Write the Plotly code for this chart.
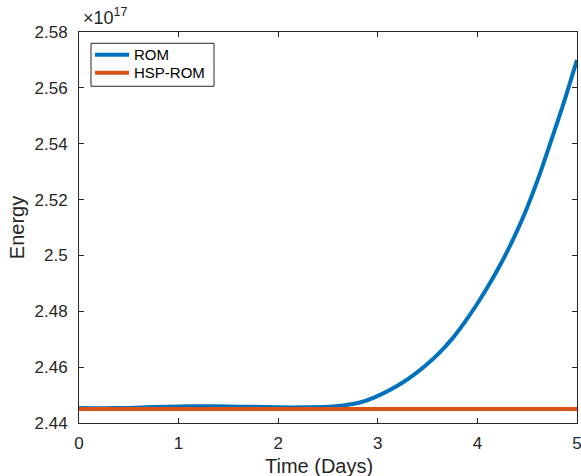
import plotly.graph_objects as go

# Time in days
time_days = [0, 0.25, 0.5, 0.75, 1.0, 1.25, 1.5, 1.75, 2.0, 2.25, 2.5, 2.625,
             2.75, 2.875, 3.0, 3.125, 3.25, 3.375, 3.5, 3.625, 3.75, 3.875,
             4.0, 4.125, 4.25, 4.375, 4.5, 4.625, 4.75, 4.875, 5.0]
# Energy, in units of 1e17
rom_energy = [2.4454, 2.4453, 2.4454, 2.4457, 2.4459, 2.4460, 2.4459, 2.4458,
              2.4456, 2.4456, 2.4458, 2.4462, 2.4468, 2.4479, 2.4497, 2.4519,
              2.4545, 2.4576, 2.4612, 2.4654, 2.4703, 2.4762, 2.4828, 2.4900,
              2.4980, 2.5070, 2.5172, 2.5290, 2.5421, 2.5555, 2.5700]
hsp_rom_energy = [2.4450] * len(time_days)

series_names = ["ROM", "HSP-ROM"]
series_colors = ["#0072BD", "#D95319"]

x_ticks = [0, 1, 2, 3, 4, 5]
y_ticks = [2.44, 2.46, 2.48, 2.50, 2.52, 2.54, 2.56, 2.58]
y_tick_labels = ["2.44", "2.46", "2.48", "2.5", "2.52", "2.54", "2.56", "2.58"]

FONT = "Liberation Sans, Arial, sans-serif"
AX = "#262626"

fig = go.Figure()
for name, color, vals in zip(series_names, series_colors, [rom_energy, hsp_rom_energy]):
    fig.add_trace(go.Scatter(x=time_days, y=vals, mode="lines", name=name,
                             showlegend=False,
                             line=dict(color=color, width=4, shape="spline", smoothing=0.6)))

axis_common = dict(showline=True, linecolor=AX, linewidth=1, mirror="ticks",
                   ticks="inside", ticklen=5, tickcolor=AX, tickwidth=1,
                   showgrid=False, zeroline=False, automargin=False,
                   ticklabeloverflow="allow",
                   tickfont=dict(family=FONT, size=17, color=AX))

# Legend drawn in paper coordinates (box, line samples, labels)
shapes = [dict(type="rect", xref="paper", yref="paper", x0=0.0241, x1=0.2711,
               y0=0.8612, y1=0.9711, line=dict(color=AX, width=1), fillcolor="white",
               layer="above")]
annotations = []
legend_rows_y = [0.9417, 0.8957]
for name, color, ly in zip(series_names, series_colors, legend_rows_y):
    shapes.append(dict(type="line", xref="paper", yref="paper", x0=0.0321, x1=0.1004,
                       y0=ly, y1=ly, line=dict(color=color, width=4), layer="above"))
    annotations.append(dict(text=name, xref="paper", yref="paper", x=0.1064, y=ly,
                            xanchor="left", yanchor="middle", showarrow=False,
                            font=dict(family=FONT, size=15, color="black")))

annotations.append(dict(text="×10<sup>17</sup>", xref="paper", yref="paper",
                        x=0.004, y=1.004, xanchor="left", yanchor="bottom", showarrow=False,
                        font=dict(family=FONT, size=18, color=AX)))
# x-axis title
annotations.append(dict(text="Time (Days)", xref="paper", yref="paper",
                        x=0.482, y=-0.110, xanchor="center", yanchor="middle", showarrow=False,
                        font=dict(family=FONT, size=20, color=AX)))

fig.update_layout(
    width=581, height=476,
    margin=dict(l=79, r=4, t=32, b=53),
    paper_bgcolor="white", plot_bgcolor="white",
    font=dict(family=FONT, color=AX),
    showlegend=False,
    xaxis=dict(range=[0, 5], tickvals=x_ticks, ticktext=[str(v) for v in x_ticks],
               ticklabelstandoff=5, **axis_common),
    yaxis=dict(range=[2.44, 2.58], tickvals=y_ticks, ticktext=y_tick_labels,
               ticklabelstandoff=7,
               title=dict(text="Energy", font=dict(family=FONT, size=20, color=AX), standoff=4),
               **axis_common),
    shapes=shapes,
    annotations=annotations,
)

fig.write_html("out.html", config={"displayModeBar": False},
               post_script="document.body.style.margin='0';document.body.style.overflow='hidden';")
